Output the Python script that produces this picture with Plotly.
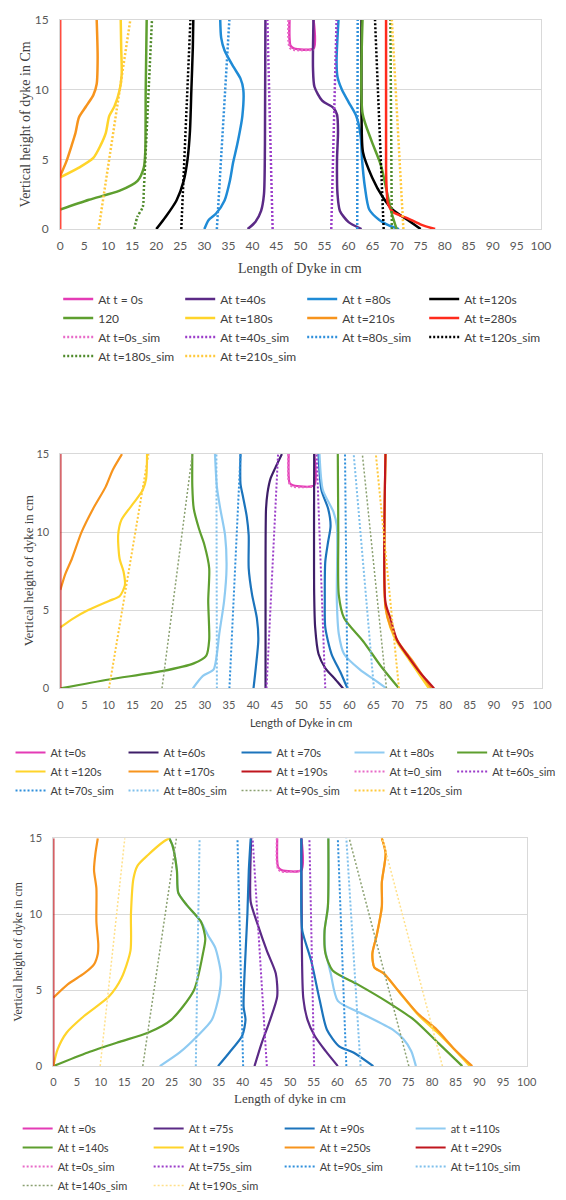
import plotly.graph_objects as go

N = None  # gap between the upstream and downstream faces of a profile

# ---------------- Panel 1 ----------------
p1_t0_x = [47.7, 47.7, 47.9, 48.6, 52.7, 52.7]
p1_t0_y = [15, 13.7, 13.15, 12.95, 12.95, 15]

p1_t40_x = [39.0, 40.6, 41.8, 42.4, 42.6, 42.7, N,
            52.7, 52.6, 52.9, 54.5, 56.8, 57.6, 57.8, 57.6, 57.7, 58.2, 60.0, 62.7]
p1_t40_y = [0, 0.5, 1.3, 2.5, 6, 15, N,
            15, 11.5, 10.2, 9.2, 8.7, 8.2, 7.0, 5.0, 2.5, 1.3, 0.5, 0]

p1_t80_x = [30.0, 30.9, 32.4, 34.2, 35.3, 36.0, 36.8, 37.9, 38.1, 37.5, 36.1, 34.2, 33.5, 33.3, N,
            57.9, 57.5, 57.7, 58.6, 60.0, 61.6, 62.5, 62.8, 63.4, 64.3, 66.4, 68.5, 70.5]
p1_t80_y = [0, 0.65, 1.1, 2.05, 3.45, 4.8, 6.0, 8.1, 10.0, 10.8, 11.6, 12.8, 13.7, 15, N,
            15, 12.0, 10.9, 10.0, 9.1, 8.1, 6.7, 5.0, 3.0, 1.4, 0.65, 0.25, 0]

p1_t120_x = [20.0, 22.0, 24.2, 25.7, 26.5, 27.0, 27.3, 27.6, 27.7, N,
             62.7, 62.7, 63.0, 64.9, 67.1, 69.3, 72.3, 75.0]
p1_t120_y = [0, 0.9, 2.05, 3.45, 5.0, 7.0, 10.0, 13.0, 15, N,
             15, 8.0, 5.5, 3.7, 2.3, 1.35, 0.65, 0]

p1_g120_x = [0, 6.0, 12.4, 16.1, 17.4, 17.7, 17.8, 18.0, N,
             62.9, 62.9, 64.8, 66.7, 68.2, 69.0, 70.0]
p1_g120_y = [1.4, 2.1, 2.75, 3.45, 4.4, 5.5, 10, 15, N,
             15, 8.3, 6.3, 4.6, 2.3, 1.1, 0]

p1_t180_x = [0, 3.9, 6.9, 8.4, 9.5, 10.2, 11.3, 12.4, 12.8, 12.7, 12.6]
p1_t180_y = [3.7, 4.4, 5.1, 6.0, 6.9, 8.1, 8.8, 10.0, 11.1, 13.0, 15]

p1_t210_x = [0, 1.3, 2.4, 3.2, 3.9, 5.4, 6.9, 7.6, 7.8, 7.6]
p1_t210_y = [3.8, 4.85, 6.0, 6.9, 8.0, 8.8, 9.6, 10.4, 12.3, 15]

p1_t280_x = [0, 0, N, 67.8, 67.8, 67.9, 68.2, 69.3, 72.3, 75.2, 78.0]
p1_t280_y = [0, 15, N, 15, 4.4, 3.0, 1.8, 1.2, 0.77, 0.3, 0]

p1_s0_x = [47.5, 47.5, 47.8, 48.6, 52.7]
p1_s0_y = [15, 13.5, 13.0, 12.85, 12.85]
p1_s40_x = [44.2, 43.1, N, 56.4, 57.5]
p1_s40_y = [0, 15, N, 0, 15]
p1_s80_x = [32.6, 35.2, N, 61.8, 61.9]
p1_s80_y = [0, 15, N, 0, 15]
p1_s120_x = [25.2, 27.1, N, 67.3, 65.5]
p1_s120_y = [0, 15, N, 0, 15]
p1_s180_x = [15.4, 16.1, 17.2, 17.4, 19.1, N, 69.0, 68.7]
p1_s180_y = [0, 0.9, 1.6, 2.75, 15, N, 0, 15]
p1_s210_x = [8.0, 14.6, N, 71.4, 69.0]
p1_s210_y = [0, 15, N, 0, 15]

# ---------------- Panel 2 ----------------
p2_t0_x = [47.4, 47.4, 47.6, 48.3, 52.7, 52.7]
p2_t0_y = [15, 13.6, 13.15, 13.0, 13.0, 15]

p2_t60_x = [42.6, 42.6, 42.7, 43.0, 43.6, 44.6, 46.0, N,
            52.7, 52.7, 52.9, 53.6, 55.0, 57.1, 58.7]
p2_t60_y = [0, 8, 11.5, 12.5, 13.4, 14.1, 15, N,
            15, 6.0, 3.9, 2.2, 1.3, 0.57, 0]

p2_t70_x = [40.1, 40.6, 41.1, 40.8, 39.8, 39.1, 39.1, 38.7, 37.9, 37.4, 37.4, N,
            53.6, 54.2, 55.6, 56.1, 55.6, 55.0, 54.9, 55.0, 56.3, 58.2, 59.6]
p2_t70_y = [0, 1.4, 3.1, 4.5, 6.0, 7.7, 9.8, 11.0, 12.3, 13.1, 15, N,
            15, 12.7, 11.5, 10.4, 9.4, 8.1, 5.6, 3.9, 2.2, 1.0, 0]

p2_t80_x = [27.5, 29.6, 31.8, 32.5, 33.0, 34.0, 34.5, 34.2, 33.2, 32.5, 32.1, N,
            53.8, 54.5, 56.7, 57.4, 57.4, 57.8, 58.9, 62.2, 65.1, 67.7]
p2_t80_y = [0, 0.8, 1.2, 2.2, 3.5, 5.6, 7.7, 9.8, 11.5, 12.9, 15, N,
            15, 12.7, 11.3, 10.4, 5.6, 3.5, 2.2, 1.2, 0.57, 0]

p2_t90_x = [0, 10.1, 21.1, 27.7, 30.3, 30.9, 30.7, 30.9, 29.9, 28.8, 27.7, 27.4, 27.4, N,
            57.6, 57.7, 57.8, 58.9, 62.9, 66.6, 70.3]
p2_t90_y = [0, 0.57, 1.1, 1.6, 2.1, 3.1, 5.6, 7.7, 9.2, 10.2, 11.5, 12.9, 15, N,
            15, 10, 6.0, 4.5, 3.0, 1.4, 0]

p2_t120_x = [0, 2.8, 5.7, 10.1, 12.3, 13.4, 13.1, 12.3, 12.0, 12.7, 15.3, 17.1, 17.8, 18.0, N,
             67.5, 67.5, 68.5, 70.0, 72.5, 74.5, 76.5]
p2_t120_y = [3.9, 4.5, 5.0, 5.6, 5.9, 6.6, 7.5, 8.3, 9.8, 10.8, 11.9, 12.7, 13.4, 15, N,
             15, 5.2, 3.9, 2.9, 1.8, 0.9, 0]

p2_t170_x = [0, 1.0, 2.4, 4.4, 6.8, 9.4, 10.9, 12.8, N,
             67.5, 67.5, 68.6, 70.3, 73.0, 75.0, 77.0]
p2_t170_y = [6.3, 7.3, 8.3, 10.0, 11.5, 12.9, 14.0, 15, N,
             15, 5.2, 3.9, 2.9, 1.8, 0.9, 0]

p2_t190_x = [0, 0, N, 67.5, 67.5, 68.5, 69.9, 72.3, 74.7, 77.6]
p2_t190_y = [0, 15, N, 15, 5.5, 4.5, 3.1, 2.0, 1.0, 0]

p2_s0_x = [47.3, 47.3, 47.6, 48.3, 52.7]
p2_s0_y = [15, 13.5, 13.05, 12.9, 12.9]
p2_s60_x = [42.8, 45.2, N, 55.0, 53.2]
p2_s60_y = [0, 15, N, 0, 15]
p2_s70_x = [35.1, 37.4, N, 59.6, 59.1]
p2_s70_y = [0, 15, N, 0, 15]
p2_s80_x = [32.5, 32.4, N, 65.1, 60.9]
p2_s80_y = [0, 15, N, 0, 15]
p2_s90_x = [21.1, 27.4, N, 67.7, 62.7]
p2_s90_y = [0, 15, N, 0, 15]
p2_s120_x = [10.1, 18.3, N, 70.3, 65.5]
p2_s120_y = [0, 15, N, 0, 15]

# ---------------- Panel 3 ----------------
p3_t0_x = [47.3, 47.3, 47.5, 48.2, 52.4, 52.4]
p3_t0_y = [15, 13.5, 13.1, 12.9, 12.9, 15]

p3_t75_x = [42.5, 44.0, 45.8, 47.3, 47.0, 45.1, 43.2, 41.7, 41.6, 41.8, N,
            52.4, 52.5, 52.8, 53.7, 55.2, 57.5, 60.1]
p3_t75_y = [0, 1.5, 3.05, 4.6, 6.1, 7.6, 9.3, 10.8, 12.5, 15, N,
            15, 8.0, 4.5, 3.05, 2.0, 1.0, 0]

p3_t90_x = [34.8, 37.2, 39.9, 40.6, 40.2, 40.4, 41.0, 41.3, 41.7, N,
            52.4, 52.4, 52.6, 54.5, 56.3, 57.8, 60.4, 63.4, 67.6]
p3_t90_y = [0, 0.9, 2.0, 3.05, 3.9, 6.1, 10.0, 12.9, 15, N,
            15, 10.0, 8.9, 6.9, 4.3, 2.4, 1.3, 0.9, 0]

p3_t110_x = [22.5, 26.7, 30.5, 33.5, 35.1, 35.4, 34.2, 32.7, 31.2, 28.2, 26.4, 26.1, 25.2, 24.5, N,
             58.1, 58.0, 57.3, 57.5, 57.9, 58.6, 60.1, 64.9, 71.7, 73.9, 75.6, 76.6]
p3_t110_y = [0, 0.9, 2.0, 3.05, 4.8, 6.1, 7.8, 8.6, 9.5, 10.6, 11.4, 12.9, 14.5, 15, N,
             15, 10.5, 8.9, 7.5, 7.0, 6.1, 4.3, 3.5, 2.4, 1.8, 1.0, 0]

p3_t140_x = [0, 7.3, 14.0, 20.0, 24.9, 29.7, 31.6, 32.1, 31.2, 28.2, 26.4, 26.1, 25.2, 24.5, N,
             58.1, 58.0, 57.3, 57.5, 59.0, 64.2, 70.2, 76.2, 81.4, 86.4]
p3_t140_y = [0, 0.9, 1.6, 2.2, 3.05, 5.0, 7.4, 8.4, 9.5, 10.6, 11.4, 12.9, 14.5, 15, N,
             15, 10.5, 8.9, 7.4, 6.3, 5.4, 4.3, 3.05, 1.5, 0]

p3_t190_x = [0, 0.9, 2.8, 6.5, 11.8, 14.4, 16.3, 16.4, 16.9, 17.8, 20.0, 23.4, 24.5, N,
             69.4, 70.2, 69.4, 69.4, 68.3, 67.4, 67.8, 69.8, 73.0, 77.3, 81.2, 85.0, 88.0]
p3_t190_y = [0, 1.1, 2.2, 3.3, 4.6, 5.8, 7.6, 10.0, 12.3, 13.2, 13.9, 14.8, 15, N,
             15, 14.0, 12.1, 10.5, 8.6, 7.4, 6.5, 6.1, 4.9, 3.3, 2.2, 1.0, 0]

p3_t250_x = [0, 3.1, 6.5, 8.6, 9.4, 9.5, 9.1, 9.1, 8.6, 8.9, 9.4, N,
             69.4, 70.2, 69.4, 69.4, 68.3, 67.4, 67.8, 69.8, 72.8, 76.9, 80.7, 84.8, 88.5]
p3_t250_y = [4.5, 5.4, 6.1, 6.7, 7.4, 8.0, 9.5, 11.7, 12.9, 14.0, 15, N,
             15, 14.0, 12.1, 10.5, 8.6, 7.4, 6.5, 6.1, 5.0, 3.5, 2.5, 1.1, 0]

p3_t290_x = [0, 0]
p3_t290_y = [0, 15]

p3_s0_x = [47.2, 47.2, 47.5, 48.2, 52.4]
p3_s0_y = [15, 13.4, 12.95, 12.8, 12.85]
p3_s75_x = [45.1, 42.1, N, 55.1, 54.1]
p3_s75_y = [0, 15, N, 0, 15]
p3_s90_x = [40.1, 38.9, N, 61.9, 60.1]
p3_s90_y = [0, 15, N, 0, 15]
p3_s110_x = [30.1, 30.9, N, 64.9, 61.9]
p3_s110_y = [0, 15, N, 0, 15]
p3_s140_x = [18.9, 26.0, N, 75.1, 62.5]
p3_s140_y = [0, 15, N, 0, 15]
p3_s190_x = [9.9, 15.1, N, 82.2, 69.5]
p3_s190_y = [0, 15, N, 0, 15]

# ---------------- colours ----------------
PINK = "#e43bb5"
PURPLE = "#5b2a86"
DKPURPLE = "#3e1e68"
BLUE = "#1f8bd6"
DKBLUE = "#1c74bc"
LTBLUE = "#8fcbf2"
BLACK = "#000000"
GREEN = "#5e9f2f"
YELLOW = "#ffd42a"
ORANGE = "#f7941d"
RED = "#ff2b1c"
DKRED = "#c0161e"
S_PINK = "#e86bc8"
S_PURPLE = "#9b3dc9"
S_BLUE = "#2f8fdb"
S_LTBLUE = "#7fc0ec"
S_GREEN = "#4f8a2b"
S_GRAYGREEN = "#8aa070"
S_YELLOW = "#ffc93c"

DOT = "2px,2px"

fig = go.Figure()


def add(panel, name, x, y, color, width, dash="solid", legend=None):
    k = "" if panel == 1 else str(panel)
    fig.add_trace(go.Scatter(
        x=x, y=y, name=name, mode="lines", connectgaps=False,
        line=dict(color=color, width=width, dash=dash, shape="spline", smoothing=0.7),
        xaxis="x" + k, yaxis="y" + k, legend=legend or ("legend" + k), hoverinfo="skip"))


# panel 1
add(1, "At t = 0s", p1_t0_x, p1_t0_y, PINK, 2.5)
add(1, "At t=40s", p1_t40_x, p1_t40_y, PURPLE, 2.5)
add(1, "At t =80s", p1_t80_x, p1_t80_y, BLUE, 2.5)
add(1, "At t=120s", p1_t120_x, p1_t120_y, BLACK, 2.5)
add(1, "120", p1_g120_x, p1_g120_y, GREEN, 2.5)
add(1, "At t=180s", p1_t180_x, p1_t180_y, YELLOW, 2.5)
add(1, "At t=210s", p1_t210_x, p1_t210_y, ORANGE, 2.5)
add(1, "At t=280s", p1_t280_x, p1_t280_y, RED, 2.5)
add(1, "At t=0s_sim", p1_s0_x, p1_s0_y, S_PINK, 2.5, DOT)
add(1, "At t=40s_sim", p1_s40_x, p1_s40_y, S_PURPLE, 2.5, DOT)
add(1, "At t=80s_sim", p1_s80_x, p1_s80_y, S_BLUE, 2.5, DOT)
add(1, "At t=120s_sim", p1_s120_x, p1_s120_y, BLACK, 2.5, DOT)
add(1, "At t=180s_sim", p1_s180_x, p1_s180_y, S_GREEN, 2.5, DOT)
add(1, "At t=210s_sim", p1_s210_x, p1_s210_y, S_YELLOW, 2.5, DOT)

# panel 2 (fifth legend column is held in legend4)
add(2, "At t=0s", p2_t0_x, p2_t0_y, PINK, 2.2)
add(2, "At t=60s", p2_t60_x, p2_t60_y, DKPURPLE, 2.2)
add(2, "At t =70s", p2_t70_x, p2_t70_y, DKBLUE, 2.2)
add(2, "At t =80s", p2_t80_x, p2_t80_y, LTBLUE, 2.2)
add(2, "At t=90s", p2_t90_x, p2_t90_y, GREEN, 2.2, legend="legend4")
add(2, "At t =120s", p2_t120_x, p2_t120_y, YELLOW, 2.2)
add(2, "At t =170s", p2_t170_x, p2_t170_y, ORANGE, 2.2)
add(2, "At t =190s", p2_t190_x, p2_t190_y, DKRED, 2.2)
add(2, "At t=0_sim", p2_s0_x, p2_s0_y, S_PINK, 2, DOT)
add(2, "At t=60s_sim", p2_s60_x, p2_s60_y, S_PURPLE, 2, DOT, legend="legend4")
add(2, "At t=70s_sim", p2_s70_x, p2_s70_y, S_BLUE, 2, DOT)
add(2, "At t=80s_sim", p2_s80_x, p2_s80_y, S_LTBLUE, 2, DOT)
add(2, "At t=90s_sim", p2_s90_x, p2_s90_y, S_GRAYGREEN, 1.5, DOT)
add(2, "At t =120s_sim", p2_s120_x, p2_s120_y, S_YELLOW, 2, DOT)

# panel 3
add(3, "At t =0s", p3_t0_x, p3_t0_y, PINK, 2.2)
add(3, "At t =75s", p3_t75_x, p3_t75_y, PURPLE, 2.2)
add(3, "At t =90s", p3_t90_x, p3_t90_y, DKBLUE, 2.2)
add(3, "at t =110s", p3_t110_x, p3_t110_y, LTBLUE, 2.2)
add(3, "At t =140s", p3_t140_x, p3_t140_y, GREEN, 2.2)
add(3, "At t =190s", p3_t190_x, p3_t190_y, YELLOW, 2.2)
add(3, "At t =250s", p3_t250_x, p3_t250_y, ORANGE, 2.2)
add(3, "At t =290s", p3_t290_x, p3_t290_y, DKRED, 2.2)
add(3, "At t=0s_sim", p3_s0_x, p3_s0_y, S_PINK, 2, DOT)
add(3, "At t=75s_sim", p3_s75_x, p3_s75_y, S_PURPLE, 2, DOT)
add(3, "At t=90s_sim", p3_s90_x, p3_s90_y, S_BLUE, 2, DOT)
add(3, "At t=110s_sim", p3_s110_x, p3_s110_y, S_LTBLUE, 2, DOT)
add(3, "At t=140s_sim", p3_s140_x, p3_s140_y, S_GRAYGREEN, 1.5, DOT)
add(3, "At t=190s_sim", p3_s190_x, p3_s190_y, "#ffe08a", 1.5, DOT)

# ---------------- layout ----------------
W, H = 566, 1200


def px(v):
    return v / W


def py(v):
    return 1 - v / H


GRID = "#d9d9d9"
TICKFONT = dict(family="Lato", size=12, color="#595959")


def xax(x0, x1, anchor, size):
    return dict(domain=[px(x0), px(x1)], anchor=anchor, range=[0, 100], tick0=0, dtick=5,
                showgrid=False, zeroline=False, showline=True, mirror=True,
                linecolor=GRID, linewidth=1, ticks="", ticklabelstandoff=6,
                tickfont=dict(TICKFONT, size=size), fixedrange=True)


def yax(bottom, top, anchor, size):
    # bottom / top are pixel rows of the plot area
    return dict(domain=[py(bottom), py(top)], anchor=anchor, range=[0, 15], tick0=0, dtick=5,
                showgrid=True, gridcolor=GRID, gridwidth=1, zeroline=False,
                showline=True, mirror=True, linecolor=GRID, linewidth=1, ticks="",
                ticklabelstandoff=8, tickfont=dict(TICKFONT, size=size), fixedrange=True)


def leg(x, y, ew, size, orientation="h"):
    return dict(x=px(x), y=py(y), xanchor="left", yanchor="top", orientation=orientation,
                entrywidth=ew, entrywidthmode="pixels", traceorder="normal",
                bgcolor="rgba(0,0,0,0)", borderwidth=0, tracegroupgap=0,
                font=dict(family="Lato", size=size, color="#404040"))


def ann(text, x, y, family, size, angle=0, color="#404040"):
    return dict(text=text, x=px(x), y=py(y), xref="paper", yref="paper",
                xanchor="center", yanchor="middle", showarrow=False, textangle=angle,
                font=dict(family=family, size=size, color=color))


SERIF = "Liberation Serif"

fig.update_layout(
    width=W, height=H,
    margin=dict(l=0, r=0, t=0, b=0),
    paper_bgcolor="white", plot_bgcolor="white",
    showlegend=True,
    xaxis=xax(58.5, 550.5, "y", 12),
    yaxis=yax(225, 12, "x", 12),
    xaxis2=xax(58.7, 551.7, "y2", 11),
    yaxis2=yax(692.5, 454, "x2", 11),
    xaxis3=xax(51.5, 536, "y3", 11),
    yaxis3=yax(1077, 845, "x3", 11),
    legend=leg(56.5, 281.5, 77, 12),
    legend2=leg(7.7, 743, 68, 11),
    legend4=leg(459.7, 743, 68, 11, "v"),
    legend3=leg(15, 1126, 86, 11),
    annotations=[
        ann("Vertical height of dyke in Cm", 23, 118, SERIF, 14, -90),
        ann("Length of Dyke in cm", 304, 265, SERIF, 14),
        ann("Vertical height of dyke in cm", 27, 573, SERIF, 13, -90),
        ann("Length of Dyke in cm", 305, 727, "Lato", 11),
        ann("Vertical height of dyke in cm", 16, 961, SERIF, 12, -90),
        ann("Length of dyke in cm", 294, 1110, SERIF, 13),
    ],
)

fig.write_html("out.html")
